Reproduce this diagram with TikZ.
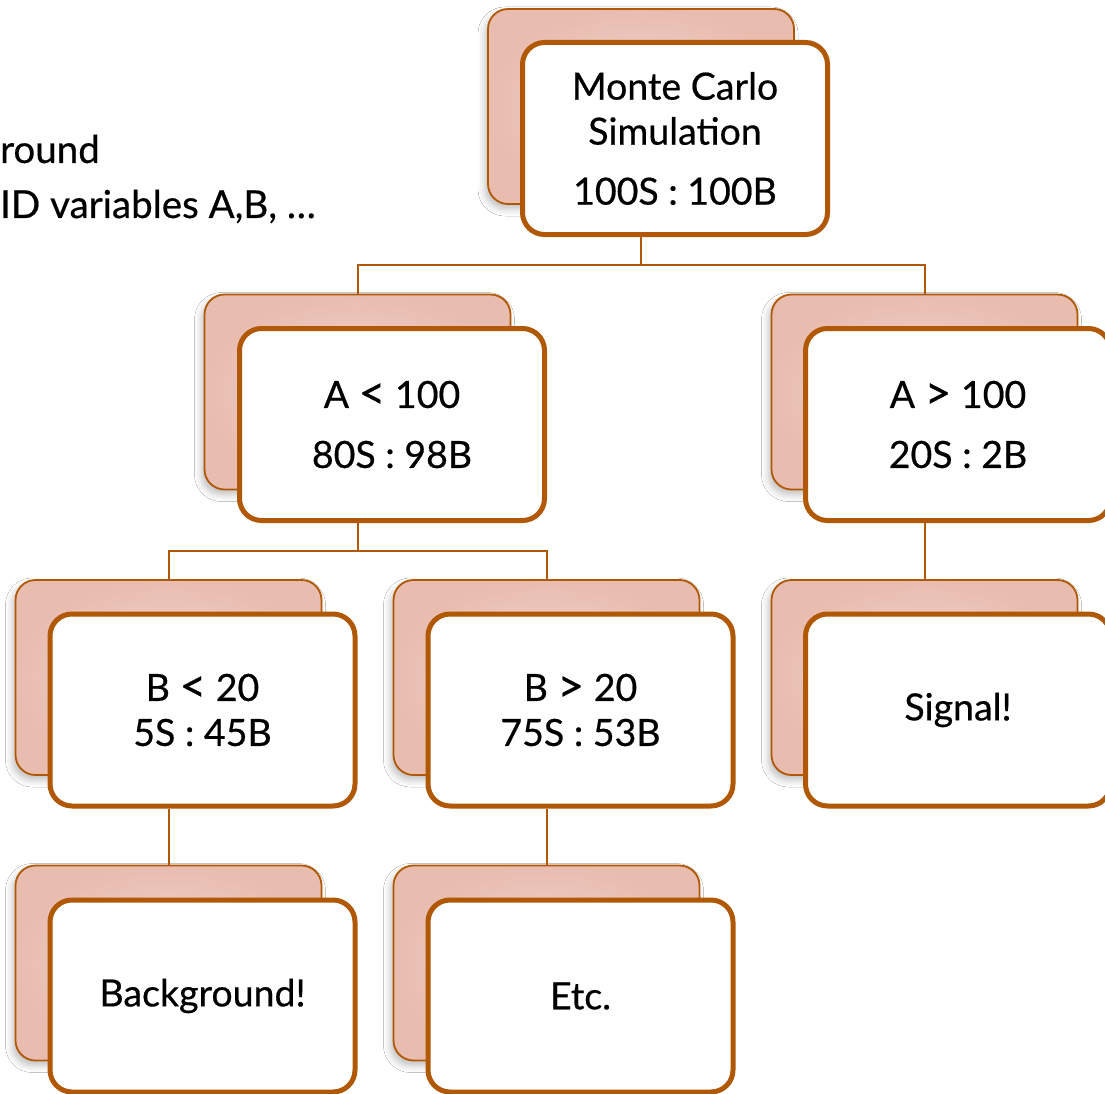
\documentclass[tikz,border=0pt]{standalone}
\usepackage{fontspec}
\setmainfont{Lato}[FakeBold=0.5]
\usetikzlibrary{calc,shadows.blur}
\definecolor{brd}{RGB}{176,88,4}
\definecolor{pinkin}{RGB}{240,216,209}
\definecolor{pinkout}{RGB}{233,188,176}
\newcommand{\lt}{\raisebox{-1pt}{\fontsize{46}{45}\selectfont<}}
\newcommand{\gt}{\raisebox{-1pt}{\fontsize{46}{45}\selectfont>}}
\tikzset{
 backbox/.style={rectangle, rounded corners=20pt, minimum width=306pt, minimum height=195pt, inner sep=0pt,
   draw=brd, line width=1.8pt, inner color=pinkin, outer color=pinkout,
   blur shadow={shadow xshift=-3pt, shadow yshift=-5pt, shadow blur radius=7pt, shadow opacity=25}},
 frontbox/.style={rectangle, rounded corners=22pt, minimum width=305pt, minimum height=192pt, draw=brd,
   line width=5pt, fill=white, align=center, inner sep=0pt, font=\fontsize{37.5}{45}\selectfont},
 conn/.style={draw=brd, line width=2pt},
 slidetext/.style={anchor=base west, inner sep=0pt, font=\fontsize{38.5}{45}\selectfont}
}
\begin{document}
\begin{tikzpicture}[x=1pt,y=-1pt]
\clip (0,0) rectangle (1105,1094);
\fill[white] (0,0) rectangle (1105,1094);

\node[slidetext] (t1) at (0,163) {round};
\node[slidetext] (t2) at (0,218) {ID variables A,B, {\addfontfeatures{LetterSpace=25}…}};

% back boxes
\node[backbox] (b1) at (641,106.5) {};
\node[backbox] (b2) at (357.5,392) {};
\node[backbox] (b3) at (924.5,392) {};
\node[backbox] (b4) at (168.5,677.5) {};
\node[backbox] (b5) at (546.5,677.5) {};
\node[backbox] (b6) at (924.5,677.5) {};
\node[backbox] (b7) at (168.5,963) {};
\node[backbox] (b8) at (546.5,963) {};

% front boxes
\node[frontbox] (f1) at (675,138.5) {Monte Carlo\\Simulation\\[15pt]100S : 100B};
\node[frontbox] (f2) at (392,424.5) {A \lt{} 100\\[15pt]80S : 98B};
\node[frontbox] (f3) at (958,424.5) {A \gt{} 100\\[15pt]20S : 2B};
\node[frontbox] (f4) at (202.5,710) {B \lt{} 20\\5S : 45B};
\node[frontbox] (f5) at (580.5,710) {B \gt{} 20\\75S : 53B};
\node[frontbox] (f6) at (958,710) {Signal!};
\node[frontbox] (f7) at (202.5,996) {Background!};
\node[frontbox] (f8) at (580.5,996) {Etc.};

% connectors
\coordinate (m1) at ($(f1.south)!.5!(b2.north)$);
\coordinate (m2) at ($(f2.south)!.5!(b4.north)$);
\draw[conn] (b1 |- f1.south) -- (b1 |- m1) -| (b2.north);
\draw[conn] (b1 |- m1) -| (b3.north);
\draw[conn] (b2 |- f2.south) -- (b2 |- m2) -| (b4.north);
\draw[conn] (b2 |- m2) -| (b5.north);
\draw[conn] (b3 |- f3.south) -- (b6.north);
\draw[conn] (b4 |- f4.south) -- (b7.north);
\draw[conn] (b5 |- f5.south) -- (b8.north);
\end{tikzpicture}
\end{document}
